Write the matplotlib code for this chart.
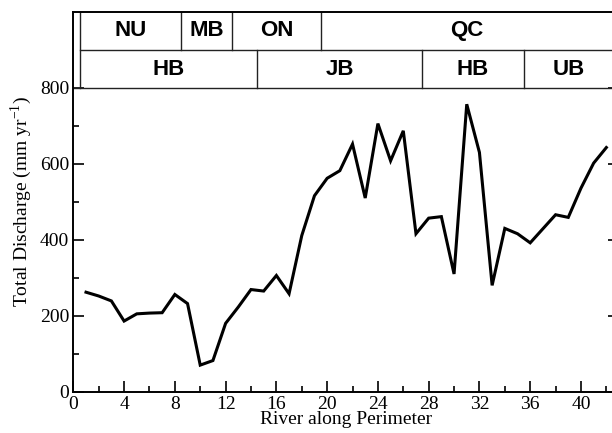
import matplotlib
matplotlib.use("Agg")
from matplotlib import pyplot as plt
from matplotlib.ticker import MultipleLocator

# discharge per river, numbered along the perimeter
river = list(range(1, 43))
discharge = [262, 252, 239, 186, 205, 207, 208, 256, 232, 70,
             82, 180, 223, 269, 265, 306, 258, 411, 516, 562,
             582, 652, 510, 706, 608, 687, 416, 457, 461, 310,
             757, 630, 280, 430, 416, 392, 429, 466, 459, 536,
             602, 643]

# province bands (top row) and basin bands (second row)
prov_names = ["NU", "MB", "ON", "QC"]
prov_edges = [0.5, 8.5, 12.5, 19.5, 43]
basin_names = ["HB", "JB", "HB", "UB"]
basin_edges = [0.5, 14.5, 27.5, 35.5, 43]

plt.rcParams['font.family'] = ['Liberation Serif', 'DejaVu Serif']

fig = plt.figure(figsize=(6.12, 4.33), dpi=100)
ax = fig.add_axes([0.1198, 0.0954, 0.8917, 0.877])

ax.plot(river, discharge, color='black', lw=2.2, solid_joinstyle='miter')

ax.set_xlim(0, 43)
ax.set_ylim(0, 1000)
ax.xaxis.set_major_locator(MultipleLocator(4))
ax.xaxis.set_minor_locator(MultipleLocator(2))
ax.set_yticks([0, 200, 400, 600, 800])
ax.set_yticks([100, 300, 500, 700], minor=True)
ax.tick_params(which='both', direction='in', top=False, right=True,
               labelsize=14, width=1.2, pad=3)
ax.tick_params(which='major', length=8)
ax.tick_params(which='minor', length=4)
for s in ax.spines.values():
    s.set_linewidth(1.4)

# band boxes
box_kw = dict(color='#222222', lw=1.0)
ax.axhline(800, **box_kw)
ax.plot([0.5, 43], [900, 900], **box_kw)
ax.plot([0.5, 0.5], [800, 1000], **box_kw)
for e in prov_edges[1:-1]:
    ax.plot([e, e], [900, 1000], **box_kw)
for e in basin_edges[1:-1]:
    ax.plot([e, e], [800, 900], **box_kw)

lab_kw = dict(family=['Liberation Sans', 'DejaVu Sans'], fontweight='bold',
              fontsize=16, ha='center', va='center')
for i, name in enumerate(prov_names):
    right = min(prov_edges[i + 1], 42.5)
    ax.text((prov_edges[i] + right) / 2, 952, name, **lab_kw)
for i, name in enumerate(basin_names):
    right = min(basin_edges[i + 1], 42.5)
    ax.text((basin_edges[i] + right) / 2, 848, name, **lab_kw)

ax.set_xlabel("River along Perimeter", fontsize=14, labelpad=-1)
ax.set_ylabel("Total Discharge (mm yr$^{\\mathregular{-1}}$)", fontsize=14,
              labelpad=4)

fig.savefig("out.png", dpi=100)
